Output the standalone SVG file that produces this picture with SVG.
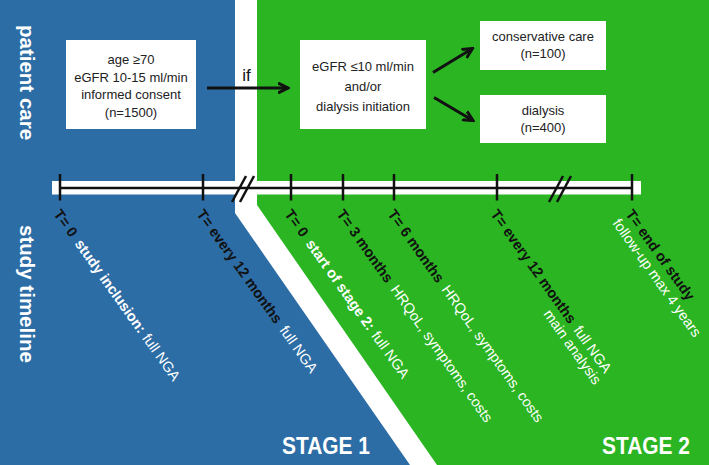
<svg xmlns="http://www.w3.org/2000/svg" width="709" height="465" viewBox="0 0 709 465">
<style>
text{font-family:"Liberation Sans",Arial,sans-serif}
.box{fill:#fff}
.bt{font-size:13px;fill:#222;text-anchor:middle}
.rot{font-size:14.5px}
.tb{font-weight:bold;fill:#111}
.wb{font-weight:bold;fill:#fff}
.wr{fill:#fff}
.side{font-size:20.5px;font-weight:bold;fill:#fff}
.stage{font-size:23px;font-weight:bold;fill:#fff}
.ln{stroke:#111;stroke-width:2.5;fill:none}
.arr{stroke:#111;stroke-width:3;fill:none;marker-end:url(#ah)}
</style>
<defs>
<marker id="ah" viewBox="0 0 12 12" refX="10" refY="6" markerWidth="12" markerHeight="12" markerUnits="userSpaceOnUse" orient="auto">
<path d="M0,1 L10,6 L0,11" fill="none" stroke="#111" stroke-width="3"/>
</marker>
</defs>
<g id="background">
<rect x="0" y="0" width="709" height="465" fill="#fff"/>
<polygon points="0,0 235,0 235,213 410,465 0,465" fill="#2D6DA6"/>
<polygon points="257,0 709,0 709,465 437,465 257,205" fill="#2BB522"/>
</g>
<g id="side-labels">
<text class="side" transform="translate(20,25) rotate(90)">patient care</text>
<text class="side" transform="translate(20,225) rotate(90)">study timeline</text>
</g>
<g id="box-inclusion">
<rect class="box" x="66" y="40" width="130" height="89"/>
<text class="bt" x="131" y="64">age ≥70</text>
<text class="bt" x="131" y="81.5">eGFR 10-15 ml/min</text>
<text class="bt" x="131" y="99">informed consent</text>
<text class="bt" x="131" y="116.5">(n=1500)</text>
</g>
<g id="box-egfr">
<rect class="box" x="300" y="40" width="126" height="89"/>
<text class="bt" x="363" y="71">eGFR ≤10 ml/min</text>
<text class="bt" x="363" y="91">and/or</text>
<text class="bt" x="363" y="111">dialysis initiation</text>
</g>
<g id="box-conservative">
<rect class="box" x="480" y="21" width="126" height="49"/>
<text class="bt" x="543" y="41">conservative care</text>
<text class="bt" x="543" y="58">(n=100)</text>
</g>
<g id="box-dialysis">
<rect class="box" x="480" y="95" width="126" height="48"/>
<text class="bt" x="543" y="115">dialysis</text>
<text class="bt" x="543" y="132">(n=400)</text>
</g>
<g id="connectors">
<line class="arr" x1="207" y1="88" x2="288" y2="88"/>
<text x="246.5" y="81" font-size="17" fill="#111" text-anchor="middle">if</text>
<line class="arr" x1="433" y1="72.5" x2="472.5" y2="48.5"/>
<line class="arr" x1="434" y1="97.5" x2="473" y2="120.5"/>
</g>
<g id="timeline">
<rect x="52" y="181" width="589" height="13.5" fill="#fff"/>
<line class="ln" x1="60" y1="188" x2="632" y2="188"/>
<line class="ln" x1="60" y1="174" x2="60" y2="200.5"/>
<line class="ln" x1="203" y1="174" x2="203" y2="200.5"/>
<line class="ln" x1="291" y1="174" x2="291" y2="200.5"/>
<line class="ln" x1="343" y1="174" x2="343" y2="200.5"/>
<line class="ln" x1="394" y1="174" x2="394" y2="200.5"/>
<line class="ln" x1="497" y1="174" x2="497" y2="200.5"/>
<line class="ln" x1="632" y1="174" x2="632" y2="200.5"/>
<line class="ln" x1="232" y1="202" x2="246" y2="176"/>
<line class="ln" x1="240" y1="202" x2="254" y2="176"/>
<line class="ln" x1="549" y1="202" x2="563" y2="176"/>
<line class="ln" x1="557" y1="202" x2="571" y2="176"/>
</g>
<g id="timeline-labels">
<g id="lab-t0" transform="translate(53,214) rotate(54.5)"><text class="rot"><tspan class="tb">T= 0</tspan><tspan class="wb" dx="7">study inclusion:</tspan><tspan class="wr" dx="5">full NGA</tspan></text></g>
<g id="lab-t12a" transform="translate(196,214) rotate(54.5)"><text class="rot"><tspan class="tb">T= every 12 months</tspan><tspan class="wr" dx="7">full NGA</tspan></text></g>
<g id="lab-s2" transform="translate(284,214) rotate(54.5)"><text class="rot"><tspan class="tb">T= 0</tspan><tspan class="wb" dx="7">start of stage 2:</tspan><tspan class="wr" dx="5">full NGA</tspan></text></g>
<g id="lab-t3" transform="translate(336,214) rotate(54.5)"><text class="rot"><tspan class="tb">T= 3 months</tspan><tspan class="wr" dx="7">HRQoL, symptoms, costs</tspan></text></g>
<g id="lab-t6" transform="translate(387,214) rotate(54.5)"><text class="rot"><tspan class="tb">T= 6 months</tspan><tspan class="wr" dx="7">HRQoL, symptoms, costs</tspan></text></g>
<g id="lab-t12b" transform="translate(490,214) rotate(54.5)"><text class="rot"><tspan class="tb">T= every 12 months</tspan><tspan class="wr" dx="7">full NGA</tspan></text><text class="rot wr" x="200" y="15" text-anchor="end">main analysis</text></g>
<g id="lab-end" transform="translate(625,214) rotate(54.5)"><text class="rot"><tspan class="tb">T= end of study</tspan></text><text class="rot wr" x="0" y="16">follow-up max 4 years</text></g>
</g>
<g id="stages">
<text class="stage" x="282" y="454" textLength="88" lengthAdjust="spacingAndGlyphs">STAGE 1</text>
<text class="stage" x="602" y="454" textLength="88" lengthAdjust="spacingAndGlyphs">STAGE 2</text>
</g>
</svg>
